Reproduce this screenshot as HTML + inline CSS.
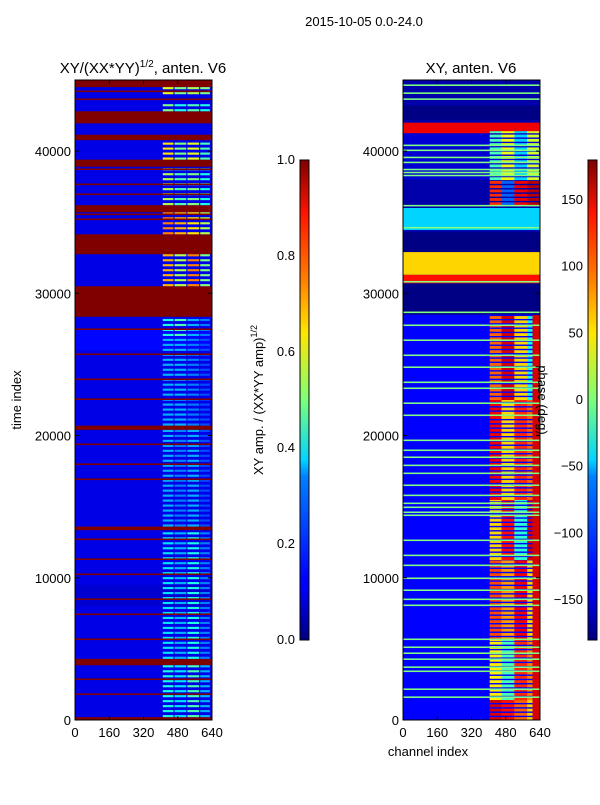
<!DOCTYPE html>
<html><head><meta charset="utf-8"><style>
body{margin:0;background:#fff;width:600px;height:800px;overflow:hidden;font-family:"Liberation Sans",sans-serif}
svg text{font-family:"Liberation Sans",sans-serif;fill:#000}
</style></head><body>
<svg id="fig" width="600" height="800" xmlns="http://www.w3.org/2000/svg">
<defs>
<linearGradient id="jet" x1="0" y1="1" x2="0" y2="0">
<stop offset="0" stop-color="#00007f"/><stop offset="0.11" stop-color="#0000ff"/><stop offset="0.125" stop-color="#0000ff"/>
<stop offset="0.34" stop-color="#0080ff"/><stop offset="0.375" stop-color="#00d4ff"/><stop offset="0.5" stop-color="#7dff7a"/>
<stop offset="0.64" stop-color="#ffe600"/><stop offset="0.75" stop-color="#ff8000"/><stop offset="0.89" stop-color="#ff1300"/><stop offset="1" stop-color="#7f0000"/>
</linearGradient>
<clipPath id="clipL"><rect x="75" y="80" width="137" height="640"/></clipPath>
<clipPath id="clipR"><rect x="403" y="80" width="137" height="640"/></clipPath>
</defs>
<text x="364" y="26" font-size="13" text-anchor="middle">2015-10-05 0.0-24.0</text>
<text x="143" y="73" font-size="15" text-anchor="middle">XY/(XX*YY)<tspan font-size="10" dy="-6">1/2</tspan><tspan dy="6">, anten. V6</tspan></text>
<text x="471" y="73" font-size="15" text-anchor="middle">XY, anten. V6</text>
<g id="heatL" clip-path="url(#clipL)"></g>
<g id="heatR" clip-path="url(#clipR)"></g>
<rect x="75" y="80" width="137" height="640" fill="none" stroke="#000" stroke-width="1"/>
<rect x="403" y="80" width="137" height="640" fill="none" stroke="#000" stroke-width="1"/>
<g id="axes"></g>
<text transform="translate(21,400) rotate(-90)" font-size="13" text-anchor="middle">time index</text>
<text x="428" y="756" font-size="13" text-anchor="middle">channel index</text>
<rect x="300" y="160" width="9" height="480" fill="url(#jet)" stroke="#000" stroke-width="1"/>
<rect x="588" y="160" width="9" height="480" fill="url(#jet)" stroke="#000" stroke-width="1"/>
<text transform="translate(263,400) rotate(-90)" font-size="13" text-anchor="middle">XY amp. / (XX*YY amp)<tspan font-size="9" dy="-6">1/2</tspan></text>
<text transform="translate(538,400) rotate(90)" font-size="13" text-anchor="middle">phase (deg)</text>
</svg>
<script>
// ---- data ----
const xTickLabels=[0,160,320,480,640];
const yTickLabels=[0,10000,20000,30000,40000];
const ampTicks=[0.0,0.2,0.4,0.6,0.8,1.0];
const phaseTicks=[-150,-100,-50,0,50,100,150];
// amplitude full-width bands: start, end, value
const ampBandStart=[0,44500,41950,40850,38900,35700,32750,28350,20400,13350,3850,0,26000,8000];
const ampBandEnd  =[45000,45000,42800,41150,39400,36200,34150,30500,20700,13600,4300,200,27400,9500];
const ampBandVal  =[0.1,1,1,1,1,1,1,1,1,1,1,1,0.13,0.08];
const ampLineT=[44150,43590,40770,38670,37610,36910,35500,35150,27420,25660,23900,22500,19330,17930,16870,12650,11250,10190,8440,7380,5620,2810,1760];
// amplitude channel 410-640 patches, 4 blocks each
const ampPatchStart=[44000,42800,39400,36200,34150,30500,27000,20700,13600,4300,200];
const ampPatchEnd  =[44500,43500,40800,38900,35700,32750,28350,27000,20400,13350,3850];
const ampPatchB1=[0.6,0.5,0.65,0.55,0.75,0.7,0.4,0.3,0.3,0.35,0.4];
const ampPatchB2=[0.5,0.4,0.5,0.45,0.7,0.55,0.45,0.3,0.25,0.3,0.35];
const ampPatchB3=[0.55,0.45,0.6,0.5,0.65,0.75,0.3,0.25,0.3,0.4,0.45];
const ampPatchB4=[0.5,0.4,0.45,0.4,0.55,0.5,0.25,0.2,0.2,0.25,0.3];
// phase full-width bands
const phBandStart=[0,42200,41250,38000,36200,34450,32900,31300,30700,28500,0];
const phBandEnd  =[45000,43200,42000,41250,38000,36000,34300,32900,31300,30700,28500];
const phBandVal  =[-165,-178,140,-150,-165,-60,-178,60,130,-178,-135];
const phLineT=[44580,44020,43600,40350,40000,39500,39150,38650,38440,38230,36110,34560,30760,28610,27700,26650,25590,24750,23690,23270,22220,21370,19610,18910,18420,17850,17290,16450,15740,15180,14900,14550,14340,12580,11520,10820,9910,9070,8430,8010,5620,5060,4640,4220,3660,3370,2110,1550];
// phase channel 410-640 patches
const phPatchStart=[37960,36200,22500,15470,11250,5620,1400,0];
const phPatchEnd  =[41400,37960,28470,22500,15470,11250,5620,1400];
const phPatchB1=[-20,120,100,140,60,110,50,150];
const phPatchB2=[40,-100,150,60,130,80,-20,130];
const phPatchB3=[-60,140,60,120,-30,140,120,100];
const phPatchB4=[30,160,-40,100,150,60,90,60];
const phRedColStart=[0];
const phRedColEnd=[28470];
const phRedColVal=[150];
// ---- scales ----
const NS='http://www.w3.org/2000/svg';
const T_MAX=45000;
function yT(t){return 720-t/T_MAX*640;}
function xL(c){return 75+c/640*137;}
function xR(c){return 403+c/640*137;}
function jet(v){v=Math.max(0,Math.min(1,v));const cl=a=>Math.max(0,Math.min(1,a));
 return 'rgb('+Math.round(255*cl(1.5-Math.abs(4*v-3)))+','+Math.round(255*cl(1.5-Math.abs(4*v-2)))+','+Math.round(255*cl(1.5-Math.abs(4*v-1)))+')';}
function ph(p){return (p+180)/360;}
function rect(g,x0,x1,t0,t1,fill){const r=document.createElementNS(NS,'rect');
 const y0=yT(t1),y1=yT(t0);r.setAttribute('x',x0);r.setAttribute('y',y0);
 r.setAttribute('width',x1-x0);r.setAttribute('height',Math.max(1,y1-y0));r.setAttribute('fill',fill);
 
 
 g.appendChild(r);}
const gL=document.getElementById('heatL'),gR=document.getElementById('heatR');
const blocks=[[410,460],[465,520],[525,580],[585,630]];
// left
ampBandStart.forEach((s,i)=>rect(gL,xL(0),xL(640),s,ampBandEnd[i],jet(ampBandVal[i])));
ampPatchStart.forEach((s,i)=>{const vals=[ampPatchB1[i],ampPatchB2[i],ampPatchB3[i],ampPatchB4[i]];
 blocks.forEach((b,k)=>{for(let t=s;t<ampPatchEnd[i];t+=350){rect(gL,xL(b[0]),xL(b[1]),t,Math.min(t+150,ampPatchEnd[i]),jet(vals[k]));}});});
ampLineT.forEach(t=>rect(gL,xL(0),xL(640),t,t+110,jet(1)));
// right
phBandStart.forEach((s,i)=>rect(gR,xR(0),xR(640),s,phBandEnd[i],jet(ph(phBandVal[i]))));
phPatchStart.forEach((s,i)=>{const vals=[phPatchB1[i],phPatchB2[i],phPatchB3[i],phPatchB4[i]];
 blocks.forEach((b,k)=>{for(let t=s;t<phPatchEnd[i];t+=300){rect(gR,xR(b[0]-5),xR(b[1]+5),t,Math.min(t+200,phPatchEnd[i]),jet(ph(vals[k])));}});});
phRedColStart.forEach((s,i)=>rect(gR,xR(605),xR(640),s,phRedColEnd[i],jet(ph(phRedColVal[i]))));
phLineT.forEach(t=>rect(gR,xR(0),xR(640),t,t+110,jet(ph(0))));
// axes
const ax=document.getElementById('axes');
function txt(x,y,s,anchor,name){const e=document.createElementNS(NS,'text');e.setAttribute('x',x);e.setAttribute('y',y);
 e.setAttribute('font-size','13');e.setAttribute('text-anchor',anchor);e.textContent=s;
 
 
 ax.appendChild(e);}
function ln(x1,y1,x2,y2){const l=document.createElementNS(NS,'line');l.setAttribute('x1',x1);l.setAttribute('y1',y1);l.setAttribute('x2',x2);l.setAttribute('y2',y2);l.setAttribute('stroke','#000');
 
 
 ax.appendChild(l);}
[[xL,'left'],[xR,'right']].forEach(([fx,nm])=>{
 xTickLabels.forEach(c=>{txt(fx(c),737,String(c),'middle','x-tick-label');ln(fx(c),720,fx(c),716);ln(fx(c),80,fx(c),84);});
 yTickLabels.forEach(t=>{const x0=fx(0);txt(x0-4,yT(t)+5,String(t),'end','y-tick-label');ln(x0,yT(t),x0+4,yT(t));ln(fx(640),yT(t),fx(640)-4,yT(t));});
});
ampTicks.forEach(v=>{const y=640-v*480;txt(295,y+4,v.toFixed(1),'end','amp-colorbar-tick');ln(300,y,309,y);});
phaseTicks.forEach(p=>{const y=640-(p+180)/360*480;txt(583,y+4,String(p).replace('-','\u2212'),'end','phase-colorbar-tick');ln(588,y,597,y);});
</script>
</body></html>
